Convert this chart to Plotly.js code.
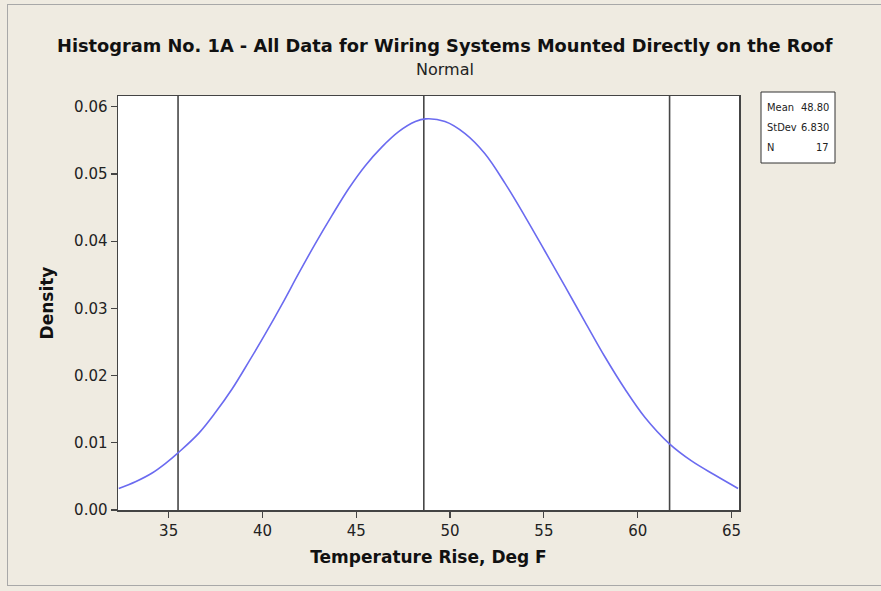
<!DOCTYPE html>
<html>
<head>
<meta charset="utf-8">
<script src="https://cdn.plot.ly/plotly-3.0.1.min.js"></script>
<style>
  html, body { margin: 0; padding: 0; background: #efebe1; }
  #wrap { position: relative; width: 881px; height: 591px; }
  #chart { position: absolute; left: 0; top: 0; width: 881px; height: 591px; }
  #frame { position: absolute; left: 7px; top: 4px; width: 874px; height: 582px;
           border-top: 1px solid #a8a8a8; border-left: 1px solid #a8a8a8; border-bottom: 1px solid #a8a8a8;
           box-sizing: border-box; pointer-events: none; }
</style>
</head>
<body>
<div id="wrap">
  <div id="chart"></div>
  <div id="frame"></div>
</div>
<script>
// Normal fit curve
const curveX = [32.34, 33.23, 34.12, 34.82, 35.50, 36.60, 37.49, 38.38, 39.26, 40.15, 41.04, 41.93, 42.81, 43.70, 44.59, 45.47, 46.36, 47.26, 48.15, 48.70,
                49.73, 50.80, 51.86, 52.93, 53.99, 55.06, 56.12, 57.19, 58.25, 59.32, 60.38, 61.71, 62.87, 64.11, 65.35];
const curveY = [0.0032, 0.0042, 0.0055, 0.0069, 0.0085, 0.0114, 0.0145, 0.0180, 0.0220, 0.0262, 0.0306, 0.0352, 0.0396, 0.0438, 0.0478, 0.0512, 0.0540, 0.0563, 0.0578, 0.0582,
                0.0578, 0.0560, 0.0530, 0.0486, 0.0437, 0.0385, 0.0333, 0.0280, 0.0228, 0.0180, 0.0138, 0.0098, 0.0073, 0.0052, 0.0032];
// Vertical reference lines
const refLines = [35.5, 48.6, 61.7];
// Axis ticks
const xTicks = [35, 40, 45, 50, 55, 60, 65];
const yTicks = [0.00, 0.01, 0.02, 0.03, 0.04, 0.05, 0.06];
const yTickText = ["0.00", "0.01", "0.02", "0.03", "0.04", "0.05", "0.06"];
// Stats box
const statLabels = ["Mean", "StDev", "N"];
const statValues = ["48.80", "6.830", "17"];

const xRange = [32.3, 65.4];
const yRange = [0, 0.0616];

const FONT = "Tahoma, 'DejaVu Sans', sans-serif";
const SMALL = "'DejaVu Sans Condensed', 'Liberation Sans Narrow', Tahoma, sans-serif";

const traces = [];
refLines.forEach(v => {
  traces.push({
    x: [v, v], y: yRange, type: 'scatter', mode: 'lines',
    line: { color: '#474747', width: 1.6 }, hoverinfo: 'skip', showlegend: false
  });
});
traces.push({
  x: curveX, y: curveY, type: 'scatter', mode: 'lines',
  line: { color: '#6b6bf0', width: 1.6, shape: 'spline', smoothing: 1 },
  showlegend: false
});

const annotations = [
  { text: '<b>Histogram No. 1A - All Data for Wiring Systems Mounted Directly on the Roof</b>',
    xref: 'paper', yref: 'paper', x: 0.527, y: 1.0, xanchor: 'center', yanchor: 'middle',
    yshift: 51, showarrow: false, font: { family: FONT, size: 17.8, color: '#111' } },
  { text: 'Normal', xref: 'paper', yref: 'paper', x: 0.527, y: 1.0, xanchor: 'center', yanchor: 'middle',
    yshift: 27, showarrow: false, font: { family: FONT, size: 16, color: '#222' } }
];
statLabels.forEach((lab, i) => {
  annotations.push({ text: lab, xref: 'paper', yref: 'paper', x: 1.0, y: 1.0, xanchor: 'left', yanchor: 'middle',
    xshift: 26, yshift: -11 - i * 20, showarrow: false, font: { family: SMALL, size: 11, color: '#222' } });
  annotations.push({ text: statValues[i], xref: 'paper', yref: 'paper', x: 1.0, y: 1.0, xanchor: 'right', yanchor: 'middle',
    xshift: 92, yshift: -11 - i * 20, showarrow: false, font: { family: SMALL, size: 11, color: '#222' } });
});

const layout = {
  width: 881, height: 591,
  margin: { l: 118, r: 142, t: 96, b: 81 },
  paper_bgcolor: 'rgba(0,0,0,0)',
  plot_bgcolor: '#ffffff',
  showlegend: false,
  xaxis: {
    range: xRange, tickvals: xTicks, ticks: 'outside', ticklen: 6, tickwidth: 1.2, tickcolor: '#444',
    showline: true, linecolor: '#444', linewidth: 1.5, mirror: true, showgrid: false, zeroline: false,
    tickfont: { family: FONT, size: 15, color: '#222' },
    title: { text: '<b>Temperature Rise, Deg F</b>', font: { family: FONT, size: 17, color: '#111' }, standoff: 12 }
  },
  yaxis: {
    range: yRange, tickvals: yTicks, ticktext: yTickText, ticks: 'outside', ticklen: 6, tickwidth: 1.2, tickcolor: '#444',
    showline: true, linecolor: '#444', linewidth: 1.5, mirror: true, showgrid: false, zeroline: false,
    tickfont: { family: FONT, size: 15, color: '#222' },
    title: { text: '<b>Density</b>', font: { family: FONT, size: 17, color: '#111' }, standoff: 16 }
  },
  shapes: [
    { type: 'rect', xref: 'paper', yref: 'paper',
      xsizemode: 'pixel', ysizemode: 'pixel', xanchor: 1.0, yanchor: 1.0,
      x0: 22, x1: 96, y0: 4, y1: -67,
      line: { color: '#333', width: 1 }, fillcolor: '#ffffff', layer: 'below' }
  ],
  annotations: annotations
};

Plotly.newPlot('chart', traces, layout, { staticPlot: true });
</script>
</body>
</html>
